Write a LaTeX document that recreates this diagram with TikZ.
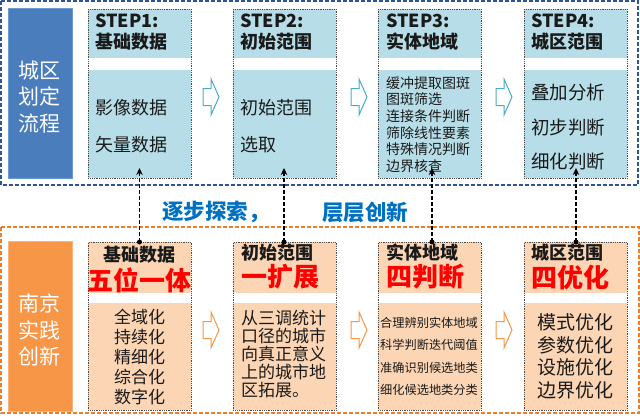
\documentclass[tikz,border=0pt]{standalone}
\usepackage{fontspec}
\setmainfont{Noto Sans CJK SC}
\usetikzlibrary{arrows.meta}
\definecolor{frameblue}{HTML}{2F5496}
\definecolor{frameorange}{HTML}{F07D2A}
\definecolor{sideblue}{HTML}{4A7DBB}
\definecolor{sideblueline}{HTML}{6A9AD3}
\definecolor{sideorange}{HTML}{F79646}
\definecolor{sideorangeline}{HTML}{F9B27A}
\definecolor{topfill}{HTML}{B7DEE8}
\definecolor{botfill}{HTML}{FCD5B4}
\definecolor{arrowblue}{HTML}{4BACC6}
\definecolor{midblue}{HTML}{0070C0}
\definecolor{txt}{HTML}{1A1A1A}
\begin{document}
\begin{tikzpicture}[x=1pt,y=-1pt,
  outerframe/.style={line width=1.4pt, dash pattern=on 4pt off 2pt},
  boxframe/.style={draw=black!70, densely dotted, line width=0.8pt, inner sep=0pt, anchor=north west, minimum width=103pt},
  sidetext/.style={text=white, align=center, font=\fontsize{21}{26.5}\selectfont},
  hdr/.style={text=txt, align=left, font=\fontsize{18}{21}\selectfont\bfseries, inner sep=0pt},
  bighdr/.style={text=red, font=\fontsize{26}{28}\selectfont\bfseries, inner sep=0pt},
  body/.style={text=txt, align=left, inner sep=0pt},
  hollow/.style={fill=white, line width=1pt, line join=miter},
  link/.style={draw=black, line width=1.7pt, dash pattern=on 4pt off 2pt, -{Stealth[length=7pt,width=6.5pt]}},
  midtext/.style={text=midblue, font=\fontsize{21.5}{24}\selectfont\bfseries, inner sep=0pt, anchor=west}
]
\useasboundingbox (0,0) rectangle (640,418);

% outer frames
\draw[outerframe, draw=frameblue] (1,1) rectangle (638,185);
\draw[outerframe, draw=frameorange] (1,227) rectangle (639,413);

% side boxes
\node[draw=sideblueline, fill=sideblue, line width=0.8pt, minimum width=64pt, minimum height=170pt, anchor=north west] (lefttop) at (8,8) {};
\node[sidetext] (lefttoptext) at (40,96.5) {城区\\划定\\流程};
\node[draw=sideorangeline, fill=sideorange, line width=0.8pt, minimum width=64pt, minimum height=170pt, anchor=north west] (leftbot) at (8,241) {};
\node[sidetext] (leftbottext) at (40,330) {南京\\实践\\创新};

% top and bottom step boxes
\foreach \x/\n in {88/1,233/2,378/3,524/4}{
  \fill[topfill] (\x,9) rectangle ++(103,49);
  \fill[topfill] (\x,70) rectangle ++(103,108);
  \node[boxframe, minimum height=169pt] (top\n) at (\x,9) {};
  \fill[botfill] (\x,242) rectangle ++(103,51);
  \fill[botfill] (\x,303) rectangle ++(103,107);
  \node[boxframe, minimum height=168pt] (bot\n) at (\x,242) {};
}

% top headers
\node[hdr, anchor=west] (h1) at (95,32.5) {STEP1:\\基础数据};
\node[hdr, anchor=west] (h2) at (240,32.5) {STEP2:\\初始范围};
\node[hdr, anchor=west] (h3) at (386,32.5) {STEP3:\\实体地域};
\node[hdr, anchor=west] (h4) at (531,32.5) {STEP4:\\城区范围};

% top bodies
\node[body, anchor=west, font=\fontsize{18}{37}\selectfont] (b1) at (95,126.5) {影像数据\\矢量数据};
\node[body, anchor=west, font=\fontsize{18}{37}\selectfont] (b2) at (240,126.5) {初始范围\\选取};
\node[body, anchor=west, font=\fontsize{14}{16.7}\selectfont] (b3) at (386,124.5) {缓冲提取图斑\\图斑筛选\\连接条件判断\\筛除线性要素\\特殊情况判断\\边界核查};
\node[body, anchor=west, font=\fontsize{18.5}{34.5}\selectfont] (b4) at (531,127.5) {叠加分析\\初步判断\\细化判断};

% bottom headers
\node[hdr] (bh1) at (139.5,255) {基础数据};
\node[bighdr] (br1) at (139.5,280) {五位一体};
\node[hdr, anchor=west] (bh2) at (241,253) {初始范围};
\node[bighdr, anchor=west] (br2) at (241,277) {一扩展};
\node[hdr, anchor=west] (bh3) at (386,253) {实体地域};
\node[bighdr, anchor=west] (br3) at (386,277) {四判断};
\node[hdr, anchor=west] (bh4) at (531,253) {城区范围};
\node[bighdr, anchor=west] (br4) at (531,278) {四优化};

% bottom bodies
\node[body, align=center, font=\fontsize{17}{20}\selectfont] (bb1) at (139.5,357) {全域化\\持续化\\精细化\\综合化\\数字化};
\node[body, anchor=west, font=\fontsize{17}{18}\selectfont] (bb2) at (241,354) {从三调统计\\口径的城市\\向真正意义\\上的城市地\\区拓展。};
\node[body, anchor=west, font=\fontsize{12.2}{22.5}\selectfont] (bb3) at (380,356.5) {合理辨别实体地域\\科学判断迭代阈值\\准确识别候选地类\\细化候选地类分类};
\node[body, anchor=west, font=\fontsize{19}{22.5}\selectfont] (bb4) at (537,356.5) {模式优化\\参数优化\\设施优化\\边界优化};

% hollow block arrows
\foreach \L in {203,351,496}{
  \draw[hollow, draw=arrowblue] (\L,88.5) -- (\L+8,88.5) -- (\L+8,79) -- (\L+16,97) -- (\L+8,115) -- (\L+8,105.5) -- (\L,105.5) -- cycle;
  \draw[hollow, draw=sideorange] (\L,321.5) -- (\L+8,321.5) -- (\L+8,312) -- (\L+16,330) -- (\L+8,348) -- (\L+8,338.5) -- (\L,338.5) -- cycle;
}

% middle text
\node[midtext] (m1) at (162,212) {逐步探索，};
\node[midtext] (m2) at (322,212) {层层创新};

% vertical links
\foreach \x/\n in {139.5/1,284/2,432/3,576/4}{
  \coordinate (ls\n) at (\x,242);
  \coordinate (le\n) at (\x,168);
  \draw[link] (ls\n) -- (le\n);
  \fill[black] (ls\n) circle (2.5);
}
\end{tikzpicture}
\end{document}
